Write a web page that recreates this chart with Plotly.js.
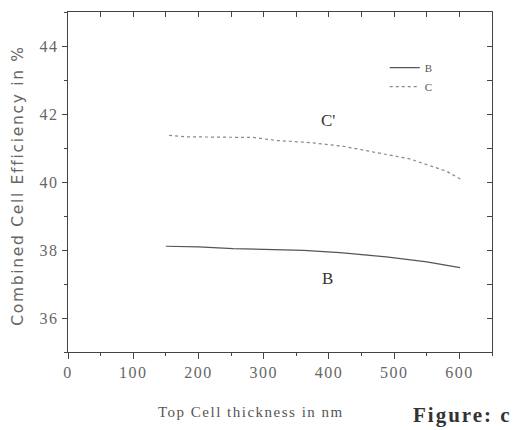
<!DOCTYPE html>
<html>
<head>
<meta charset="utf-8">
<script src="https://cdn.plot.ly/plotly-3.0.1.min.js"></script>
<style>
html,body{margin:0;padding:0;background:#fff;}
#chart{width:519px;height:430px;}
.xtick text,.ytick text{letter-spacing:1.5px;}
.annotation[data-index="2"] text{letter-spacing:1.7px;}
.annotation[data-index="3"] text{letter-spacing:1.5px;}
.annotation[data-index="4"] text{letter-spacing:2px;}
</style>
</head>
<body>
<div id="chart"></div>
<script>
// Series B (solid) and C (dotted): top cell thickness (nm) vs combined efficiency (%)
const thicknessB = [150, 200, 253, 294, 361, 417, 488, 550, 601];
const efficiencyB = [38.11, 38.09, 38.04, 38.02, 37.99, 37.92, 37.80, 37.65, 37.48];
const thicknessC = [155, 182, 230, 284, 320, 371, 422, 473, 524, 550, 580, 603];
const efficiencyC = [41.37, 41.33, 41.32, 41.31, 41.22, 41.16, 41.05, 40.87, 40.68, 40.51, 40.32, 40.07];
const seriesNames = ['B', 'C'];
const xTickVals = [0, 100, 200, 300, 400, 500, 600];
const yTickVals = [36, 38, 40, 42, 44];

const traces = [
  {x: thicknessB, y: efficiencyB, name: seriesNames[0], type: 'scatter', mode: 'lines',
   line: {color: '#555', width: 1.2, dash: 'solid'}},
  {x: thicknessC, y: efficiencyC, name: seriesNames[1], type: 'scatter', mode: 'lines',
   xaxis: 'x2', yaxis: 'y2',
   line: {color: '#888', width: 1.2, dash: 'dot'}}
];

const serif = '"Liberation Serif", "Times New Roman", serif';
const tickFont = {family: serif, size: 16, color: '#666'};

const layout = {
  width: 519, height: 430,
  font: {family: serif},
  margin: {l: 68, r: 27, t: 12, b: 78},
  paper_bgcolor: '#fff', plot_bgcolor: '#fff',
  showlegend: true,
  legend: {x: 0.747, y: 0.879, xanchor: 'left', yanchor: 'top', bgcolor: 'rgba(0,0,0,0)',
           font: {family: serif, size: 11, color: '#555'},
           tracegroupgap: 0, itemwidth: 30},
  xaxis: {range: [0, 650], tickvals: xTickVals, ticks: 'outside', ticklen: 6, tickcolor: '#444',
          showline: true, linecolor: '#444', linewidth: 1.2, showgrid: false, zeroline: false,
          tickfont: tickFont, minor: {dtick: 50, tick0: 0, ticks: 'outside', ticklen: 3, tickcolor: '#444'}},
  yaxis: {range: [35, 45], tickvals: yTickVals, ticks: 'outside', ticklen: 5, tickcolor: '#444',
          showline: true, linecolor: '#444', linewidth: 1.2, showgrid: false, zeroline: false,
          tickfont: tickFont, minor: {dtick: 1, tick0: 35, ticks: 'outside', ticklen: 3, tickcolor: '#444'}},
  xaxis2: {overlaying: 'x', side: 'top', anchor: 'y2', range: [0, 650], dtick: 50, tick0: 0,
           ticks: 'inside', ticklen: 5, tickcolor: '#444', showticklabels: false,
           showline: true, linecolor: '#444', linewidth: 1.2, showgrid: false, zeroline: false},
  yaxis2: {overlaying: 'y', side: 'right', anchor: 'x2', range: [35, 45], dtick: 1, tick0: 35,
           ticks: 'inside', ticklen: 5, tickcolor: '#444', showticklabels: false,
           showline: true, linecolor: '#444', linewidth: 1.2, showgrid: false, zeroline: false},
  annotations: [
    {text: "C'", x: 398, y: 41.8, xref: 'x', yref: 'y', showarrow: false,
     font: {family: serif, size: 17, color: '#333'}},
    {text: 'B', x: 398, y: 37.15, xref: 'x', yref: 'y', showarrow: false,
     font: {family: serif, size: 17, color: '#333'}},
    {text: 'Combined Cell Efficiency in %', px: 18, py: 186, textangle: -90, showarrow: false,
     xanchor: 'center', yanchor: 'middle',
     font: {family: 'DejaVu Sans, sans-serif', size: 15.5, color: '#666'}},
    {text: 'Top Cell thickness in nm', px: 251, py: 412, showarrow: false,
     xanchor: 'center', yanchor: 'middle',
     font: {family: serif, size: 15, color: '#555'}},
    {text: '<b>Figure: c</b>', px: 420, py: 415, showarrow: false, xanchor: 'left', yanchor: 'middle',
     font: {family: serif, size: 21, color: '#333'}}
  ]
};
// convert pixel-positioned annotations to paper fractions
const pw = 519 - 68 - 27, ph = 430 - 12 - 78;
layout.annotations.forEach(a => {
  if (a.px !== undefined) {
    a.xref = 'paper'; a.yref = 'paper';
    a.x = (a.px - 68) / pw; a.y = 1 - (a.py - 12) / ph;
  }
  delete a.px; delete a.py;
});

Plotly.newPlot('chart', traces, layout, {displayModeBar: false, staticPlot: true});
</script>
</body>
</html>
